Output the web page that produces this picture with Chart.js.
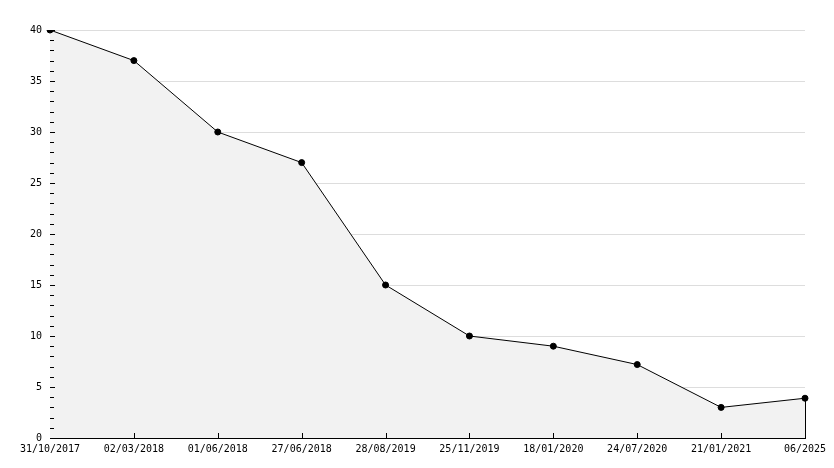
<!DOCTYPE html>
<html><head><meta charset="utf-8"><title>Chart</title>
<script src="https://cdn.jsdelivr.net/npm/chart.js"></script>
<style>body{margin:0;background:#fff}#wrap{width:834px;height:468px}</style></head>
<body>
<div id="wrap"><canvas id="chart"></canvas></div>
<script>
const labels = ['31/10/2017', '02/03/2018', '01/06/2018', '27/06/2018', '28/08/2019', '25/11/2019', '18/01/2020', '24/07/2020', '21/01/2021', '06/2025'];
const values = [40, 37, 30, 27, 15, 10, 9, 7.2, 3, 3.9];
const yTicks = [0, 5, 10, 15, 20, 25, 30, 35, 40];

// tick marks drawn inside the plot, plus minor ticks on y and the right edge of the fill
const insideTicks = {
  id: 'insideTicks',
  afterDatasetsDraw(chart) {
    const ctx = chart.ctx, x = chart.scales.x, y = chart.scales.y, a = chart.chartArea;
    ctx.save();
    ctx.strokeStyle = '#000';
    ctx.lineWidth = 1;
    ctx.beginPath();
    for (let v = 0; v <= 40; v++) {
      const py = Math.round(y.getPixelForValue(v)) + 0.5;
      ctx.moveTo(a.left, py);
      ctx.lineTo(a.left + (v % 5 === 0 ? 5 : 4), py);
    }
    for (let i = 1; i < labels.length - 1; i++) {
      const px = Math.round(x.getPixelForValue(i)) + 0.5;
      ctx.moveTo(px, a.bottom);
      ctx.lineTo(px, a.bottom - 5);
    }
    const last = labels.length - 1;
    const lx = Math.round(x.getPixelForValue(last)) + 0.5;
    ctx.moveTo(lx, y.getPixelForValue(values[last]));
    ctx.lineTo(lx, a.bottom);
    ctx.stroke();
    ctx.restore();
  }
};

new Chart(document.getElementById('chart'), {
  type: 'line',
  data: {
    labels,
    datasets: [{
      data: values,
      borderColor: '#000',
      borderWidth: 1,
      backgroundColor: '#f2f2f2',
      fill: 'origin',
      tension: 0,
      pointRadius: 3,
      pointBackgroundColor: '#000',
      pointBorderColor: '#000',
      pointHoverRadius: 3
    }]
  },
  options: {
    responsive: true,
    maintainAspectRatio: false,
    animation: false,
    layout: { padding: { top: 30, right: 29, left: 0, bottom: 0 } },
    plugins: { legend: { display: false }, tooltip: { enabled: false } },
    scales: {
      x: {
        offset: false,
        grid: { display: false, drawTicks: false },
        border: { display: true, color: '#000', width: 1 },
        ticks: { color: '#000', font: { family: 'DejaVu Sans Mono', size: 10 }, autoSkip: false, maxRotation: 0, padding: 5 },
        afterFit(s) { s.height = 30; }
      },
      y: {
        min: 0, max: 40,
        afterBuildTicks(s) { s.ticks = yTicks.map(v => ({ value: v })); },
        grid: { color: '#dddddd', drawTicks: false },
        border: { display: true, color: '#000', width: 1 },
        ticks: { color: '#000', font: { family: 'DejaVu Sans Mono', size: 10 }, padding: 8 },
        afterFit(s) { s.width = 50; }
      }
    }
  },
  plugins: [insideTicks]
});
</script></body></html>
